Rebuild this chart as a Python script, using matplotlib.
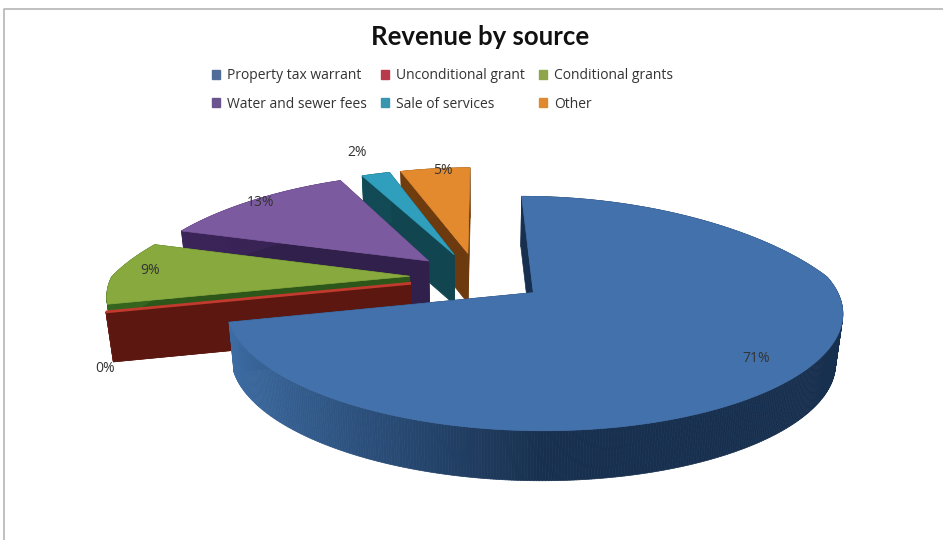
import matplotlib

matplotlib.use("Agg")
import matplotlib.pyplot as plt
import numpy as np
from matplotlib.collections import PolyCollection
from matplotlib.colors import LinearSegmentedColormap
from matplotlib.patches import Patch, Polygon

categories = [
    "Property tax warrant",
    "Unconditional grant",
    "Conditional grants",
    "Water and sewer fees",
    "Sale of services",
    "Other",
]
percent = [71, 0, 9, 13, 2, 5]

top_colors = ["#4371AB", "#C23A2E", "#88A93D", "#7C5AA0", "#2F9FBD", "#E38A2E"]
wall_light = ["#3E6EA6", "#661B12", "#35651F", "#3C2559", "#14535F", "#7C4412"]
wall_dark = ["#18304F", "#5C1810", "#2C561A", "#32204C", "#114650", "#6C3A0E"]
legend_colors = ["#4F6D98", "#B8394A", "#8FA54B", "#6B5390", "#3896AE", "#E08A30"]
label_xy = [(756, 359), (105, 368), (150, 271), (261, 202), (357, 153), (443, 171)]

# projection of the pie plane onto the page, in pixels
CX, CY = 478, 277
RX, RY = 298, 108
PERSP_Y = 0.174
PERSP_X_BACK, PERSP_X_FRONT = 0.28, 0.15
EXPLODE = 0.23
DEPTH = 50
BOTTOM_SHRINK = 0.98


def project(u, v):
    wx = 1 + np.where(v > 0, PERSP_X_BACK, PERSP_X_FRONT) * v
    wy = 1 + PERSP_Y * v
    return CX + RX * u / wx, CY - RY * v / wy


def lower(x, y):
    return CX + (x - CX) * BOTTOM_SHRINK, y + DEPTH


def quad(x1, y1, x2, y2):
    bx1, by1 = lower(x1, y1)
    bx2, by2 = lower(x2, y2)
    return [(x1, y1), (x2, y2), (bx2, by2), (bx1, by1)]


def draw_slice(ax, start, end, top, light, dark):
    mid = np.radians((start + end) / 2)
    ax0, ay0 = EXPLODE * np.sin(mid), EXPLODE * np.cos(mid)
    angles = np.radians(np.linspace(start, end, max(int(end - start), 1) * 2 + 1))
    ux = ax0 + np.sin(angles)
    vy = ay0 + np.cos(angles)
    x, y = project(ux, vy)
    x0, y0 = project(np.array(ax0), np.array(ay0))

    # side walls first, then the rim, then the top face over them
    for xe, ye in ((x[0], y[0]), (x[-1], y[-1])):
        ax.add_patch(Polygon(quad(x0, y0, xe, ye), closed=True, fc=dark, ec=dark, lw=0.5))

    cmap = LinearSegmentedColormap.from_list("wall", [dark, dark, light])
    shade = np.clip(-np.sin(angles[:-1]) * 0.5 + 0.5, 0, 1)
    strips = [quad(x[i], y[i], x[i + 1], y[i + 1]) for i in range(len(x) - 1)]
    ax.add_collection(PolyCollection(strips, array=shade, cmap=cmap, clim=(0, 1),
                                     edgecolors="face", linewidths=0.5))

    face = [(x0, y0)] + list(zip(x, y))
    ax.add_patch(Polygon(face, closed=True, fc=top, ec=top, lw=2 if start == end else 0.5))


fig = plt.figure(figsize=(9.43, 5.4), dpi=100)
ax = fig.add_axes([0, 0, 1, 1])
ax.set_xlim(0, 943)
ax.set_ylim(540, 0)
ax.axis("off")

# chart area border, only the top and left edges are on the page
ax.plot([4, 4, 943], [540, 9, 9], color="#B5B5B5", lw=1.2)

edges = np.cumsum([0] + percent) * 3.6
for i in [5, 4, 3, 2, 1, 0]:
    draw_slice(ax, edges[i], edges[i + 1], top_colors[i], wall_light[i], wall_dark[i])

for value, (lx, ly) in zip(percent, label_xy):
    ax.text(lx, ly, f"{value}%", ha="center", va="center", fontsize=10,
            family="Open Sans", color="#333333")

ax.text(480, 37, "Revenue by source", ha="center", va="center", fontsize=18.5,
        family="Lato", fontweight="bold", color="#111111")

# legend fills by column, so swap the order to read across the rows
order = [0, 3, 1, 4, 2, 5]
handles = [Patch(color=legend_colors[i], label=categories[i]) for i in order]
ax.legend(
    handles=handles,
    ncol=3,
    loc="center left",
    bbox_to_anchor=(212, 90),
    bbox_transform=ax.transData,
    frameon=False,
    prop={"family": "Open Sans", "size": 10},
    labelcolor="#333333",
    handlelength=0.6,
    handleheight=0.6,
    handletextpad=0.5,
    columnspacing=1.0,
    labelspacing=0.95,
    borderpad=0,
    borderaxespad=0,
)

fig.savefig("out.png", dpi=100)
